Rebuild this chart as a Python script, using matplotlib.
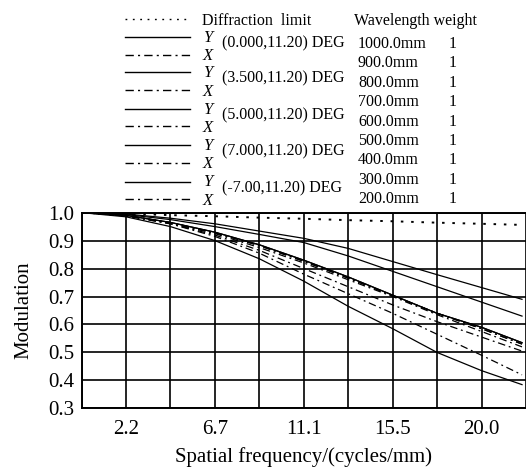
import matplotlib
matplotlib.use("Agg")
import matplotlib.pyplot as plt
from matplotlib.lines import Line2D

plt.rcParams['font.family'] = ['Liberation Serif', 'DejaVu Serif']

W, H = 526, 468

# spatial frequency (cycles/mm), one point per grid line
freq = [0, 2.225, 4.45, 6.675, 8.9, 11.125, 13.35, 15.575, 17.8, 20.025, 22.05]

diffraction = [1.0, 0.996, 0.991, 0.987, 0.982, 0.978, 0.973, 0.969, 0.964, 0.960, 0.956]

# tangential (Y) curves
f0_y = [1.0, 0.995, 0.98, 0.96, 0.934, 0.908, 0.872, 0.825, 0.778, 0.732, 0.69]
f35_y = [1.0, 0.993, 0.975, 0.95, 0.922, 0.893, 0.845, 0.79, 0.735, 0.68, 0.63]
f5_y = [1.0, 0.985, 0.95, 0.9, 0.835, 0.755, 0.665, 0.585, 0.5, 0.435, 0.385]
f7_y = [1.0, 0.99, 0.965, 0.93, 0.885, 0.83, 0.77, 0.705, 0.64, 0.59, 0.535]
fm7_y = [1.0, 0.99, 0.965, 0.93, 0.885, 0.83, 0.77, 0.705, 0.64, 0.59, 0.535]

# sagittal (X) curves
f0_x = [1.0, 0.99, 0.962, 0.925, 0.875, 0.82, 0.76, 0.70, 0.635, 0.575, 0.52]
f35_x = [1.0, 0.989, 0.96, 0.92, 0.865, 0.80, 0.735, 0.67, 0.61, 0.555, 0.505]
f5_x = [1.0, 0.988, 0.96, 0.915, 0.855, 0.78, 0.71, 0.64, 0.565, 0.49, 0.42]
f7_x = [1.0, 0.99, 0.964, 0.928, 0.882, 0.826, 0.766, 0.703, 0.64, 0.585, 0.53]
fm7_x = [1.0, 0.99, 0.964, 0.928, 0.882, 0.826, 0.766, 0.703, 0.64, 0.585, 0.53]

field_labels = ["(0.000,11.20) DEG", "(3.500,11.20) DEG", "(5.000,11.20) DEG",
                "(7.000,11.20) DEG", "(-7.00,11.20) DEG"]
wavelengths = ["1000.0mm", "900.0mm", "800.0mm", "700.0mm", "600.0mm",
               "500.0mm", "400.0mm", "300.0mm", "200.0mm"]
weights = ["1"] * 9

xticks_all = [2.225 * i for i in range(11)]
xtick_labels = ["", "2.2", "", "6.7", "", "11.1", "", "15.5", "", "20.0", ""]
yticks = [0.3, 0.4, 0.5, 0.6, 0.7, 0.8, 0.9, 1.0]

solid = '-'
dashdot = (0, (6, 3, 1.5, 3))
dotted = (0, (1.3, 4))

fig = plt.figure(figsize=(W / 100, H / 100), dpi=100)
ax = fig.add_axes([81.5 / W, (H - 408.4) / H, 444.5 / W, 195.8 / H])

ax.plot(freq, diffraction, color='k', linestyle=dotted, linewidth=1.4)
for ys in [f0_y, f35_y, f5_y, f7_y, fm7_y]:
    ax.plot(freq, ys, color='k', linestyle=solid, linewidth=0.9)
for xs in [f0_x, f35_x, f5_x, f7_x, fm7_x]:
    ax.plot(freq, xs, color='k', linestyle=dashdot, linewidth=0.9)

ax.set_xlim(0, 22.05)
ax.set_ylim(0.3, 1.0)
ax.set_xticks(xticks_all)
ax.set_xticklabels(xtick_labels, fontsize=15)
ax.set_yticks(yticks)
ax.set_yticklabels(["%.1f" % v for v in yticks], fontsize=15)
ax.tick_params(axis='x', length=0, pad=8)
ax.tick_params(axis='y', length=0, pad=5)
ax.grid(True, color='k', linewidth=1.2)
for s in ['left', 'bottom', 'top']:
    ax.spines[s].set_linewidth(1.4)
ax.spines['right'].set_visible(False)
ax.set_xlabel("Spatial frequency/(cycles/mm)", fontsize=15, labelpad=6)
ax.set_ylabel("Modulation", fontsize=15, labelpad=11)


# legend block above the plot, placed in pixel coords
def px(x, y):
    return x / W, 1 - y / H


def sample(y, style):
    x0, y0 = px(125, y)
    x1, _ = px(190, y)
    fig.add_artist(Line2D([x0, x1], [y0, y0], transform=fig.transFigure,
                          color='k', linestyle=style, linewidth=1.0))


fs = 11.5
sample(19, dotted)
fig.text(*px(202, 21), "Diffraction  limit", fontsize=fs, va='center')
fig.text(*px(354, 21), "Wavelength weight", fontsize=fs, va='center')

pair_y = [37, 72, 108.5, 145, 181.5]
for i, yy in enumerate(pair_y):
    sample(yy, solid)
    sample(yy + 17.5, dashdot)
    fig.text(*px(203, yy + 1), "Y", fontsize=fs + 0.5, style='italic', va='center')
    fig.text(*px(203, yy + 19.5), "X", fontsize=fs + 0.5, style='italic', va='center')
    fig.text(*px(222, yy + 6.5), field_labels[i], fontsize=fs, va='center')

for i, wl in enumerate(wavelengths):
    yy = 44 + 19.4 * i
    fig.text(*px(358, yy), wl, fontsize=fs, va='center')
    fig.text(*px(449, yy), weights[i], fontsize=fs, va='center')

fig.savefig("out.png", dpi=100)
